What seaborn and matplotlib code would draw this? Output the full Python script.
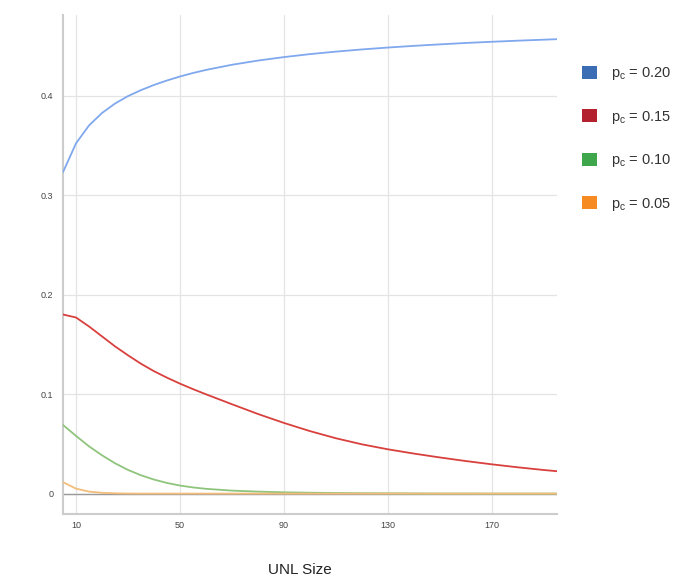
import matplotlib
matplotlib.use("Agg")
import matplotlib.pyplot as plt
from matplotlib.patches import Patch
import pandas as pd
import seaborn as sns

# Размер UNL (ось X)
unl_size = [5, 10, 15, 20, 25, 30, 35, 40, 45, 50, 55, 60, 70, 80, 90, 100,
            110, 120, 130, 140, 150, 160, 170, 180, 190, 195]

# Кривые для разных p_c
p020 = [0.323, 0.352, 0.370, 0.3825, 0.392, 0.3995, 0.4055, 0.4107, 0.4152, 0.4192,
        0.4227, 0.4258, 0.431, 0.4352, 0.4387, 0.4417, 0.4442, 0.4464, 0.4483, 0.4500,
        0.4515, 0.4529, 0.4541, 0.4552, 0.4562, 0.4567]
p015 = [0.180, 0.177, 0.168, 0.158, 0.148, 0.139, 0.1305, 0.1230, 0.1165, 0.1105,
        0.105, 0.0998, 0.0898, 0.0800, 0.0710, 0.0628, 0.0556, 0.0495, 0.0445, 0.0402,
        0.0363, 0.0327, 0.0294, 0.0264, 0.0237, 0.0225]
p010 = [0.069, 0.058, 0.0475, 0.0385, 0.0305, 0.0238, 0.0184, 0.0141, 0.0107, 0.0081,
        0.0062, 0.0048, 0.003, 0.002, 0.0013, 0.0009, 0.0006, 0.0004, 0.0003,
        0.0002, 0.0001, 0.0001, 0.0, 0.0, 0.0, 0.0]
p005 = [0.0115, 0.005, 0.002, 0.0008, 0.0003, 0.0001, 0.0, 0.0, 0.0, 0.0,
        0.0, 0.0, 0.0, 0.0, 0.0, 0.0, 0.0, 0.0, 0.0, 0.0, 0.0, 0.0, 0.0, 0.0,
        0.0, 0.0]

series = ["0.20", "0.15", "0.10", "0.05"]
line_colors = ["#80a8ee", "#d8403d", "#8fc47c", "#f2bd7a"]
swatch_colors = ["#3b6db4", "#b3202e", "#3ea64b", "#f58b22"]

x_ticks = [10, 50, 90, 130, 170]
y_ticks = [0, 0.1, 0.2, 0.3, 0.4]
y_labels = ["0", "0.1", "0.2", "0.3", "0.4"]

# Длинная таблица для seaborn
df = pd.concat([
    pd.DataFrame({"unl": unl_size, "value": vals, "pc": name})
    for name, vals in zip(series, [p020, p015, p010, p005])
], ignore_index=True)

sns.set_style("white")
plt.rcParams["font.family"] = ["Liberation Sans", "DejaVu Sans"]

fig = plt.figure(figsize=(6.8, 5.82), dpi=100)
ax = fig.add_axes([63 / 680, 68 / 582, 494 / 680, 499 / 582])

sns.lineplot(data=df, x="unl", y="value", hue="pc", hue_order=series,
             palette=line_colors, linewidth=1.3, legend=False, ax=ax, zorder=3)

ax.set_xlim(5, 195)
ax.set_ylim(-0.0205, 0.481)
ax.set_xticks(x_ticks)
ax.set_yticks(y_ticks)
ax.set_yticklabels(y_labels)
ax.tick_params(axis="both", length=0, labelsize=6.5, labelcolor="#444444")
ax.tick_params(axis="y", pad=7)
ax.tick_params(axis="x", pad=5)
ax.grid(True, color="#e4e4e4", linewidth=0.9)
ax.axhline(0, color="#999999", linewidth=1.0, zorder=2)
ax.set_xlabel("")
ax.set_ylabel("")

for side in ["top", "right"]:
    ax.spines[side].set_visible(False)
for side in ["left", "bottom"]:
    ax.spines[side].set_color("#cccccc")
    ax.spines[side].set_linewidth(1.5)

fig.text(300 / 680, 1 - 570 / 582, "UNL Size", ha="center", va="center",
         fontsize=11, color="#222222")

handles = [Patch(facecolor=c, edgecolor="none") for c in swatch_colors]
labels = [f"p$_\\mathregular{{c}}$ = {s}" for s in series]
fig.legend(handles, labels, loc="upper left", bbox_to_anchor=(569 / 680, 1 - 52 / 582),
           frameon=False, fontsize=10.5, handlelength=1.0, handleheight=1.0,
           handletextpad=1.0, labelspacing=1.82, labelcolor="#333333")

fig.savefig("out.png", dpi=100)
